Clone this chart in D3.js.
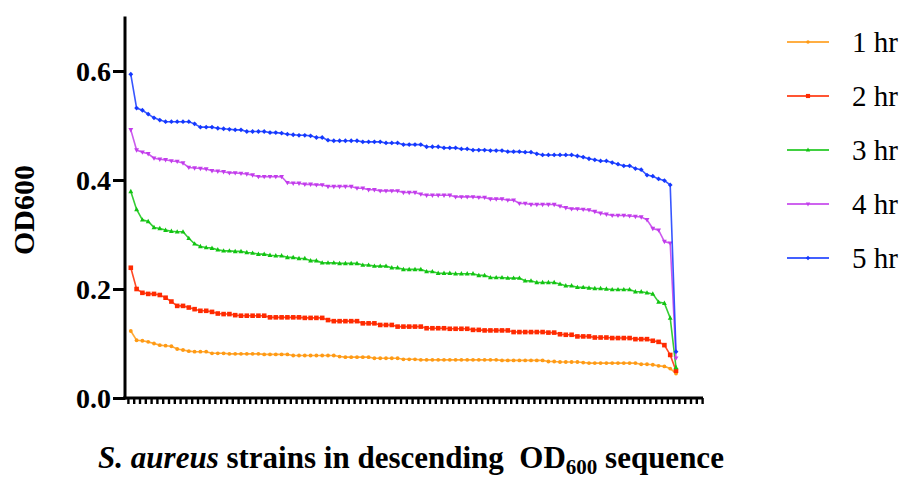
<!DOCTYPE html>
<html><head><meta charset="utf-8">
<script src="https://cdn.jsdelivr.net/npm/d3@7"></script>
<style>
html,body{margin:0;padding:0;background:#fff;}
svg{display:block;font-family:"Liberation Serif","Times New Roman",serif;}
</style></head>
<body><svg id="chart" width="905" height="480"></svg>
<script>
const seriesNames = ["1 hr","2 hr","3 hr","4 hr","5 hr"];
const colors = ["#FF9A14","#FF2A00","#11C411","#C23CEB","#1438FF"];
const yTicks = [0,0.2,0.4,0.6];
const od1 = [.123,.106,.105,.103,.100,.097,.096,.095,.090,.088,
 .086,.085,.085,.085,.082,.082,.082,.081,.081,.081,
 .081,.081,.081,.080,.080,.080,.080,.080,.078,.078,
 .078,.078,.078,.078,.078,.078,.076,.075,.075,.075,
 .075,.075,.073,.073,.073,.073,.073,.071,.071,.071,
 .070,.070,.070,.070,.070,.070,.070,.070,.070,.070,
 .070,.070,.070,.070,.069,.069,.069,.069,.069,.069,
 .069,.069,.067,.067,.066,.066,.066,.066,.065,.064,
 .064,.064,.064,.064,.064,.064,.064,.064,.062,.062,
 .061,.059,.058,.054,.045];
const od2 = [.239,.200,.193,.191,.191,.189,.184,.177,.169,.169,
 .166,.163,.160,.160,.158,.155,.154,.154,.152,.151,
 .151,.151,.151,.151,.148,.148,.148,.148,.148,.148,
 .147,.147,.147,.147,.143,.141,.141,.141,.141,.141,
 .137,.137,.137,.134,.134,.134,.131,.131,.131,.131,
 .131,.128,.128,.128,.128,.127,.127,.127,.127,.125,
 .125,.124,.124,.124,.124,.124,.121,.121,.121,.121,
 .121,.121,.120,.120,.117,.116,.116,.113,.113,.113,
 .111,.111,.111,.110,.110,.110,.110,.108,.108,.108,
 .105,.103,.097,.079,.050];
const od3 = [.379,.346,.327,.324,.313,.311,.308,.306,.305,.305,
 .293,.283,.278,.276,.275,.272,.270,.270,.269,.269,
 .267,.266,.264,.264,.262,.261,.261,.258,.258,.256,
 .256,.252,.252,.248,.248,.248,.247,.247,.247,.247,
 .244,.244,.242,.242,.242,.239,.239,.236,.236,.236,
 .236,.232,.232,.229,.229,.229,.228,.228,.228,.228,
 .225,.225,.221,.221,.221,.220,.220,.220,.215,.215,
 .212,.212,.212,.212,.209,.206,.206,.203,.203,.202,
 .201,.201,.200,.199,.199,.199,.199,.195,.195,.193,
 .191,.176,.174,.147,.056];
const od4 = [.492,.455,.451,.448,.440,.438,.437,.435,.434,.431,
 .423,.422,.421,.420,.417,.416,.415,.413,.413,.412,
 .411,.409,.406,.406,.406,.406,.406,.395,.394,.394,
 .392,.392,.391,.391,.388,.388,.388,.388,.388,.385,
 .385,.382,.382,.380,.380,.380,.380,.377,.377,.377,
 .374,.372,.372,.372,.372,.372,.369,.369,.369,.369,
 .368,.368,.365,.365,.365,.363,.363,.357,.357,.355,
 .355,.355,.355,.355,.352,.349,.347,.347,.346,.345,
 .342,.339,.337,.335,.335,.335,.334,.333,.332,.327,
 .311,.308,.287,.284,.073];
const od5 = [.594,.532,.528,.521,.514,.510,.507,.507,.507,.507,
 .507,.503,.497,.497,.497,.495,.494,.493,.492,.492,
 .489,.489,.489,.489,.487,.487,.486,.484,.483,.482,
 .482,.481,.478,.478,.473,.472,.472,.472,.472,.472,
 .470,.470,.470,.470,.468,.468,.468,.465,.465,.465,
 .465,.461,.461,.461,.459,.459,.459,.457,.457,.455,
 .455,.455,.454,.454,.454,.452,.452,.452,.451,.451,
 .448,.446,.446,.446,.446,.446,.446,.444,.442,.439,
 .437,.435,.435,.432,.429,.426,.426,.421,.419,.409,
 .407,.402,.399,.391,.085];
const seriesValues = [od1,od2,od3,od4,od5];
const markerTypes = ["circle","square","triangle","tridown","diamond"];

const svg = d3.select("#chart");
const x = d3.scaleLinear().domain([-1, 99]).range([125, 705]);
const y = d3.scaleLinear().domain([0, 0.7]).range([398, 16.5]);

function markerPath(t, s) {
  if (t === "circle") return d3.symbol(d3.symbolCircle, s*s*0.9)();
  if (t === "square") return `M${-s/2},${-s/2}h${s}v${s}h${-s}Z`;
  if (t === "triangle") return `M0,${-s*0.6}L${s*0.55},${s*0.4}L${-s*0.55},${s*0.4}Z`;
  if (t === "tridown") return `M0,${s*0.6}L${s*0.55},${-s*0.4}L${-s*0.55},${-s*0.4}Z`;
  return `M0,${-s*0.6}L${s*0.6},0L0,${s*0.6}L${-s*0.6},0Z`;
}
const mSize = [3.6, 4.6, 4.4, 4.4, 4.0];

// series lines
const line = d3.line().x((d,i)=>x(i)).y(d=>y(d));
seriesValues.forEach((vals, k) => {
  const g = svg.append("g");
  g.append("path").datum(vals).attr("d", line)
    .attr("fill","none").attr("stroke", colors[k]).attr("stroke-width",1.6).attr("stroke-opacity",0.85);
  g.selectAll("path.m").data(vals).join("path").attr("class","m")
    .attr("transform",(d,i)=>`translate(${x(i)},${y(d)})`)
    .attr("d", markerPath(markerTypes[k], mSize[k]))
    .attr("fill", colors[k]);
});

// axes
const xTickVals = d3.range(-0.5, 99, 1);
const xAxis = d3.axisBottom(x).tickValues(xTickVals).tickSize(6).tickFormat("");
const gx = svg.append("g").attr("transform","translate(0,398)").call(xAxis);
gx.select(".domain").attr("d","M123,0H703").attr("stroke","#000").attr("stroke-width",3);
gx.selectAll(".tick line").attr("stroke","#000").attr("stroke-width",2.4);

const yAxis = d3.axisLeft(y).tickValues(yTicks).tickSize(12).tickFormat(d3.format(".1f"));
const gy = svg.append("g").attr("transform","translate(125,0)").call(yAxis);
gy.select(".domain").attr("d",`M0,${y(0)+1.5}V${y(0.7)}`).attr("stroke","#000").attr("stroke-width",3);
gy.selectAll(".tick line").attr("stroke","#000").attr("stroke-width",3);
gy.selectAll(".tick text").attr("x",-14).attr("dy","0.34em")
  .style("font-family","'Liberation Serif',serif").style("font-size","28px").style("font-weight","bold").attr("fill","#000");

// y title
svg.append("text").attr("transform","translate(34,210) rotate(-90)")
  .attr("text-anchor","middle").style("font-size","30px").style("font-weight","bold").text("OD600");

// x title
const xt = svg.append("text").attr("x",411).attr("y",468).attr("text-anchor","middle")
  .style("font-size","31px").style("font-weight","bold");
xt.append("tspan").style("font-style","italic").text("S. aureus");
xt.append("tspan").text(" strains in descending \u00A0OD");
xt.append("tspan").attr("dy",6).style("font-size","21px").text("600");
xt.append("tspan").attr("dy",-6).text(" sequence");

// legend
const legY0 = 42, legDy = 54;
seriesNames.forEach((nm, k) => {
  const gy0 = legY0 + k*legDy;
  svg.append("line").attr("x1",787).attr("x2",829).attr("y1",gy0).attr("y2",gy0)
    .attr("stroke",colors[k]).attr("stroke-width",1.8).attr("stroke-opacity",0.8);
  svg.append("path").attr("transform",`translate(808,${gy0})`)
    .attr("d", markerPath(markerTypes[k], mSize[k]*0.9)).attr("fill",colors[k]);
  svg.append("text").attr("x",852).attr("y",gy0).attr("dy","0.34em")
    .style("font-size","29px").text(nm);
});
</script></body></html>
